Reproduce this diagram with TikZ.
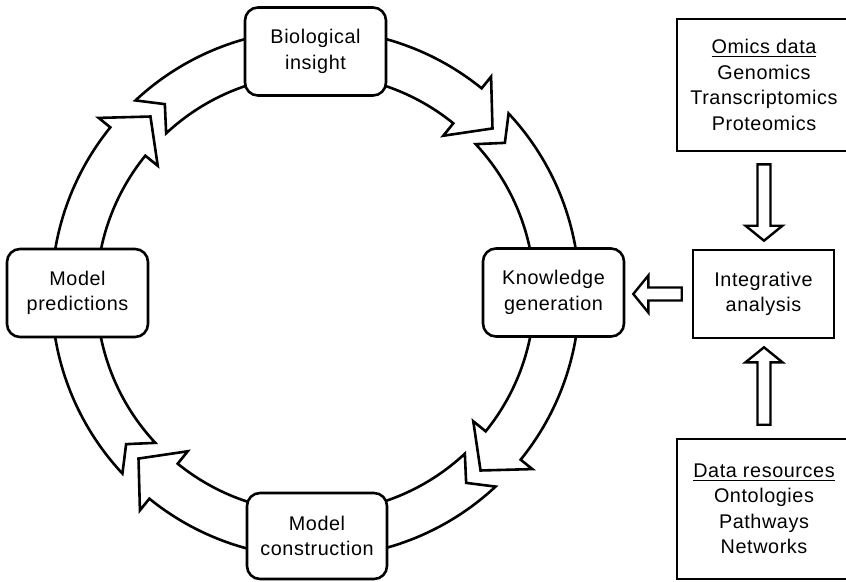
\documentclass[tikz,border=0pt]{standalone}
\usepackage{fontspec}
\setmainfont{Liberation Sans}[LetterSpace=3]
\usetikzlibrary{calc}
\newcommand\ulinetext[1]{\setbox0=\hbox{#1}\leavevmode\rlap{\rule[-3.6pt]{\wd0}{1.3pt}}\box0}
\newcommand\bandseg[1]{%
  \draw[band] (#1:264) arc[start angle=#1, end angle=#1+82, radius=264]
    -- (#1+82:279) -- (#1+90:242) -- (#1+82:203) -- (#1+82:219)
    arc[start angle=#1+82, end angle=#1, radius=219]
    -- (#1+4.5:242) -- cycle;}
\newcommand\hollowarr[2]{%
  \coordinate (hb) at ($(#2)!15pt!(#1)$);
  \draw[hollow] ($(#1)!6.5pt!90:(#2)$) -- ($(hb)!6.5pt!-90:(#1)$)
    -- ($(hb)!18.5pt!-90:(#1)$) -- (#2) -- ($(hb)!18.5pt!90:(#1)$)
    -- ($(hb)!6.5pt!90:(#1)$) -- ($(#1)!6.5pt!-90:(#2)$) -- cycle;}
\begin{document}
\begin{tikzpicture}[x=1pt,y=-1pt,line width=2.6pt,line join=miter,
  txt/.style={font=\fontsize{19.8}{25.5}\selectfont, align=center, inner sep=0pt},
  cyc/.style={txt, draw, fill=white, rounded corners=13pt, minimum width=141pt, minimum height=88pt},
  sqbox/.style={txt, draw, fill=white},
  band/.style={draw, fill=white},
  hollow/.style={draw, fill=white, line width=2.4pt}]
\useasboundingbox (0,0) rectangle (846,581);
\clip (0,0) rectangle (846,581);
\fill[white] (0,0) rectangle (846,581);

\begin{scope}[shift={(315.5,293.5)}]
  \bandseg{-133}
  \bandseg{-43}
  \bandseg{47}
  \bandseg{137}
\end{scope}

\node[cyc] (bio) at (315.5,51.5) {Biological\\insight};
\node[cyc] (pred) at (77.5,293) {Model\\predictions};
\node[cyc] (know) at (553.5,292.5) {Knowledge\\generation};
\node[cyc, minimum width=140pt, minimum height=86pt] (cons) at (317,536) {Model\\construction};

\node[sqbox, minimum width=174pt, minimum height=132pt] (omics) at (764,85)
  {\ulinetext{Omics data}\\Genomics\\Transcriptomics\\Proteomics};
\node[sqbox, minimum width=141pt, minimum height=88pt] (integ) at (763.5,294)
  {Integrative\\analysis};
\node[sqbox, minimum width=174pt, minimum height=140pt] (data) at (764,509)
  {\ulinetext{Data resources}\\Ontologies\\Pathways\\Networks};

\coordinate (a1s) at ($(omics.south)+(0,12)$);
\coordinate (a1e) at ($(omics.south |- integ.north)+(0,-8)$);
\coordinate (a2s) at ($(data.north)+(0,-13)$);
\coordinate (a2e) at ($(data.north |- integ.south)+(0,8)$);
\coordinate (a3s) at ($(integ.west)+(-10,0)$);
\coordinate (a3e) at ($(know.east |- integ.west)+(8,0)$);
\hollowarr{a1s}{a1e}
\hollowarr{a2s}{a2e}
\hollowarr{a3s}{a3e}
\end{tikzpicture}
\end{document}
